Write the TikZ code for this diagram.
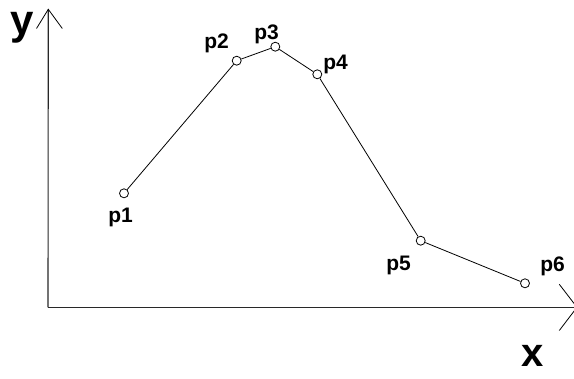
\documentclass[tikz,border=0pt]{standalone}
\usepackage{fontspec}
\setmainfont{Liberation Sans}
\usepackage{tikz}
\usetikzlibrary{positioning}
\definecolor{axisgray}{RGB}{40,40,40}

\tikzset{
  pnt/.style={circle, draw, inner sep=0pt, minimum size=9pt},
  plabel/.style={font=\fontsize{21}{21}\selectfont\bfseries, inner sep=0pt, anchor=base west},
  axlabel/.style={font=\fontsize{40}{40}\selectfont\bfseries, inner sep=0pt, anchor=base west},
  axisline/.style={draw=axisgray, line width=1.1pt},
}

\begin{document}
\begin{tikzpicture}[x=1pt, y=-1pt, line width=0.8pt]
\useasboundingbox (0,0) rectangle (574,379);
% axes
\coordinate (o) at (48,307.3);
\coordinate (ytip) at (48.3,9.3);
\coordinate (xtip) at (577,307.3);
\coordinate (yarmL) at (36.5,28.5);
\coordinate (yarmR) at (62.3,28.5);
\coordinate (xarmU) at (559.3,284.3);
\coordinate (xarmD) at (559.3,330.5);
\draw[axisline] (o) -- (ytip);
\draw[axisline] (o) -- (xtip);
\draw (yarmL) -- (ytip) -- (yarmR);
\draw (xarmU) -- (xtip) -- (xarmD);
\node[axlabel, font=\fontsize{42}{42}\selectfont\bfseries] (ylab) at (10,35) {y};
\node[axlabel] (xlab) at (521,367) {x};

% points
\node[pnt] (p1) at (124,193.3) {};
\node[pnt] (p2) at (236.7,60.7) {};
\node[pnt] (p3) at (275.3,46.7) {};
\node[pnt] (p4) at (317.3,74.3) {};
\node[pnt] (p5) at (420.7,240.7) {};
\node[pnt] (p6) at (525,283.3) {};
\draw (p1) -- (p2) -- (p3) -- (p4) -- (p5) -- (p6);

% labels
\node[plabel] (l1) at (108,223) {p1};
\node[plabel] (l2) at (204,49) {p2};
\node[plabel] (l3) at (254,39.5) {p3};
\node[plabel] (l4) at (323,70) {p4};
\node[plabel] (l5) at (386,270.5) {p5};
\node[plabel] (l6) at (540,271.5) {p6};
\end{tikzpicture}
\end{document}
